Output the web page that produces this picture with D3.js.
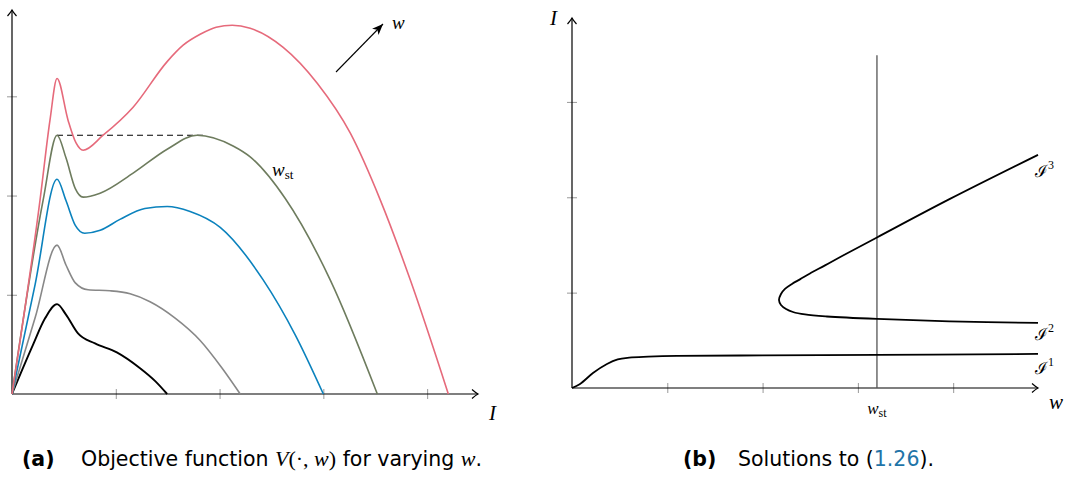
<!DOCTYPE html>
<html>
<head>
<meta charset="utf-8">
<script src="https://cdn.jsdelivr.net/npm/d3@7"></script>
<style>
    body { margin: 0; background: #fff; }
    .math { font-family: "Liberation Serif", serif; font-style: italic; }
    .cap { font-family: "DejaVu Sans", sans-serif; font-size: 20.5px; }
</style>
</head>
<body>
<div id="chart"></div>
<script>

// (a) objective function V(I, w), one curve per w  -- pairs are [I, V]
var curveW1 = [[0, 0], [0.20, 0.49], [0.32, 0.765], [0.434, 0.906], [0.52, 0.80], [0.636, 0.61],
    [0.80, 0.51], [1.01, 0.42], [1.234, 0.26], [1.38, 0.13], [1.495, 0]];
var curveW2 = [[0, 0], [0.222, 0.765], [0.434, 1.50], [0.52, 1.30], [0.61, 1.12], [0.733, 1.05],
    [0.945, 1.04], [1.138, 1.01], [1.33, 0.93], [1.572, 0.765], [1.813, 0.54], [2.025, 0.26], [2.199, 0]];
var curveW3 = [[0, 0], [0.222, 1.10], [0.434, 2.165], [0.52, 1.95], [0.61, 1.70], [0.70, 1.62],
    [0.85, 1.65], [1.04, 1.76], [1.28, 1.87], [1.495, 1.89], [1.716, 1.84], [2.006, 1.68],
    [2.42, 1.15], [2.73, 0.594], [3.0, 0]];
var curveWst = [[0, 0], [0.30, 1.954], [0.434, 2.608], [0.52, 2.38], [0.61, 2.07], [0.685, 1.984],
    [0.849, 2.024], [1.167, 2.226], [1.495, 2.467], [1.784, 2.608], [2.13, 2.50], [2.295, 2.39],
    [2.633, 1.97], [3.067, 1.148], [3.52, 0]];
var curveW5 = [[0, 0], [0.27, 1.954], [0.366, 2.76], [0.434, 3.18], [0.54, 2.76], [0.617, 2.53],
    [0.685, 2.457], [0.878, 2.608], [1.167, 2.89], [1.495, 3.35], [1.649, 3.515], [1.813, 3.625],
    [1.967, 3.696], [2.122, 3.716], [2.295, 3.686], [2.613, 3.494], [2.941, 3.132], [3.26, 2.628],
    [3.549, 1.954], [3.838, 1.148], [4.204, 0]];
var curvesA = [curveW1, curveW2, curveW3, curveWst, curveW5];
var colorsA = ["#000000", "#888888", "#0b82bd", "#6e7c5e", "#e66a7b"];
var stLevel = [[0.434, 2.608], [1.86, 2.608]];
var ticksA_x = [1, 2, 3, 4];
var ticksA_y = [1, 2, 3];

// (b) solution branches -- pairs are [w, I]
var branch1 = [[0, 0], [0.08, 0.04], [0.22, 0.157], [0.367, 0.252], [0.48, 0.30], [0.6, 0.318],
    [0.8, 0.328], [1.1, 0.336], [2.0, 0.342], [3.2, 0.347], [4.89, 0.357]];
var branch23 = [[4.89, 0.682], [3.966, 0.698], [3.2, 0.724], [2.676, 0.75], [2.445, 0.771],
    [2.319, 0.797], [2.246, 0.829], [2.193, 0.871], [2.172, 0.923], [2.193, 0.986], [2.235, 1.039],
    [2.308, 1.091], [2.392, 1.139], [2.497, 1.201], [2.655, 1.286], [2.844, 1.39], [3.2, 1.579],
    [3.966, 1.983], [4.89, 2.445]];
var wSt = 3.2;
var wStTop = 3.49;
var ticksB_x = [1, 2, 3, 4];
var ticksB_y = [1, 2, 3];

var width = 1073, height = 477;

var svg = d3.select("#chart").append("svg")
    .attr("width", width)
    .attr("height", height);

var defs = svg.append("defs");
defs.append("marker")
    .attr("id", "tip")
    .attr("viewBox", "-8 -6 10 12")
    .attr("markerWidth", 10).attr("markerHeight", 12)
    .attr("markerUnits", "userSpaceOnUse")
    .attr("refX", 0).attr("refY", 0)
    .attr("orient", "auto")
    .append("path")
    .attr("d", "M-6,-4.5 Q-2,-1 0,0 Q-2,1 -6,4.5")
    .attr("fill", "none").attr("stroke", "#000").attr("stroke-width", 1.2);
defs.append("marker")
    .attr("id", "stealth")
    .attr("viewBox", "-12 -6 14 12")
    .attr("markerWidth", 14).attr("markerHeight", 12)
    .attr("markerUnits", "userSpaceOnUse")
    .attr("refX", 0).attr("refY", 0)
    .attr("orient", "auto")
    .append("path")
    .attr("d", "M0,0 L-11,-4.5 L-8,0 L-11,4.5 Z")
    .attr("fill", "#000");

// ---------- panel (a)
var xA = d3.scaleLinear().domain([0, 4.49]).range([12, 478]);
var yA = d3.scaleLinear().domain([0, 3.87]).range([394, 10]);

function drawAxes(x, y, xt, yt) {
    var gx = svg.append("g")
        .attr("transform", "translate(0," + y(0) + ")")
        .call(d3.axisBottom(x).tickValues(xt).tickSize(5).tickFormat(""));
    gx.select(".domain").remove();
    gx.selectAll(".tick line").attr("y1", -5).attr("stroke", "#999");

    var gy = svg.append("g")
        .attr("transform", "translate(" + x(0) + ",0)")
        .call(d3.axisLeft(y).tickValues(yt).tickSize(5).tickFormat(""));
    gy.select(".domain").remove();
    gy.selectAll(".tick line").attr("x1", 5).attr("stroke", "#999");

    svg.append("line")
        .attr("x1", x(0)).attr("y1", y(0))
        .attr("x2", x.range()[1]).attr("y2", y(0))
        .attr("stroke", "#000").attr("stroke-width", 1.2)
        .attr("marker-end", "url(#tip)");
    svg.append("line")
        .attr("x1", x(0)).attr("y1", y(0))
        .attr("x2", x(0)).attr("y2", y.range()[1])
        .attr("stroke", "#000").attr("stroke-width", 1.2)
        .attr("marker-end", "url(#tip)");
}

drawAxes(xA, yA, ticksA_x, ticksA_y);

var lineA = d3.line()
    .x(function (d) { return xA(d[0]); })
    .y(function (d) { return yA(d[1]); })
    .curve(d3.curveMonotoneX);

svg.append("path")
    .attr("d", lineA(stLevel))
    .attr("fill", "none").attr("stroke", "#000").attr("stroke-width", 1.1)
    .attr("stroke-dasharray", "6,4");

svg.selectAll(".curveA")
    .data(curvesA)
    .enter().append("path")
    .attr("class", "curveA")
    .attr("d", lineA)
    .attr("fill", "none")
    .attr("stroke", function (d, i) { return colorsA[i]; })
    .attr("stroke-width", function (d, i) { return i === 0 ? 1.9 : 1.6; });

// direction of increasing w
svg.append("line")
    .attr("x1", 336).attr("y1", 72).attr("x2", 383).attr("y2", 24)
    .attr("stroke", "#000").attr("stroke-width", 1.1)
    .attr("marker-end", "url(#stealth)");
svg.append("text").attr("class", "math").attr("x", 392).attr("y", 29)
    .attr("font-size", 19).text("w");

var stLab = svg.append("text").attr("class", "math").attr("x", 272).attr("y", 176).attr("font-size", 19);
stLab.append("tspan").text("w");
stLab.append("tspan").attr("font-style", "normal").attr("font-size", 13).attr("dy", 3).text("st");

svg.append("text").attr("class", "math").attr("x", 489).attr("y", 420)
    .attr("font-size", 21).text("I");

// ---------- panel (b)
var xB = d3.scaleLinear().domain([0, 4.89]).range([572, 1038]);
var yB = d3.scaleLinear().domain([0, 3.88]).range([388, 18]);

drawAxes(xB, yB, ticksB_x, ticksB_y);

svg.append("line")
    .attr("x1", xB(wSt)).attr("x2", xB(wSt))
    .attr("y1", yB(0)).attr("y2", yB(wStTop))
    .attr("stroke", "#555").attr("stroke-width", 1.3);

var lineB1 = d3.line()
    .x(function (d) { return xB(d[0]); })
    .y(function (d) { return yB(d[1]); })
    .curve(d3.curveMonotoneX);
var lineB2 = d3.line()
    .x(function (d) { return xB(d[0]); })
    .y(function (d) { return yB(d[1]); })
    .curve(d3.curveCatmullRom.alpha(0.5));

svg.append("path")
    .attr("d", lineB1(branch1))
    .attr("fill", "none").attr("stroke", "#000").attr("stroke-width", 1.8);
svg.append("path")
    .attr("d", lineB2(branch23))
    .attr("fill", "none").attr("stroke", "#000").attr("stroke-width", 1.8);

var branchLabels = [["3", 177], ["2", 340], ["1", 374]];
branchLabels.forEach(function (b) {
    var t = svg.append("text").attr("x", 1035).attr("y", b[1])
        .attr("font-family", "DejaVu Serif, serif").attr("font-size", 17);
    t.append("tspan").text("\u2110");
    t.append("tspan").attr("font-size", 12).attr("dy", -8).attr("font-family", "Liberation Serif, serif").text(b[0]);
});

var stLabB = svg.append("text").attr("class", "math").attr("x", xB(wSt)).attr("y", 414)
    .attr("text-anchor", "middle").attr("font-size", 17);
stLabB.append("tspan").text("w");
stLabB.append("tspan").attr("font-style", "normal").attr("font-size", 12).attr("dy", 3).text("st");

svg.append("text").attr("class", "math").attr("x", 1049).attr("y", 409)
    .attr("font-size", 21).text("w");
svg.append("text").attr("class", "math").attr("x", 550).attr("y", 25)
    .attr("font-size", 21).text("I");

// ---------- captions
var capA = svg.append("text").attr("class", "cap").attr("x", 22).attr("y", 466);
capA.append("tspan").attr("font-weight", "bold").text("(a)");
capA.append("tspan").attr("x", 81).text("Objective function ");
capA.append("tspan").attr("class", "math").attr("font-size", 22).text("V");
capA.append("tspan").attr("font-family", "Liberation Serif, serif").attr("font-size", 22).text("(\u00b7, ");
capA.append("tspan").attr("class", "math").attr("font-size", 22).text("w");
capA.append("tspan").attr("font-family", "Liberation Serif, serif").attr("font-size", 22).text(")");
capA.append("tspan").text(" for varying ");
capA.append("tspan").attr("class", "math").attr("font-size", 22).text("w");
capA.append("tspan").text(".");

var capB = svg.append("text").attr("class", "cap").attr("x", 683).attr("y", 466);
capB.append("tspan").attr("font-weight", "bold").text("(b)");
capB.append("tspan").attr("x", 738).text("Solutions to (");
capB.append("tspan").attr("fill", "#1f74a8").text("1.26");
capB.append("tspan").text(").");

</script>
</body>
</html>
